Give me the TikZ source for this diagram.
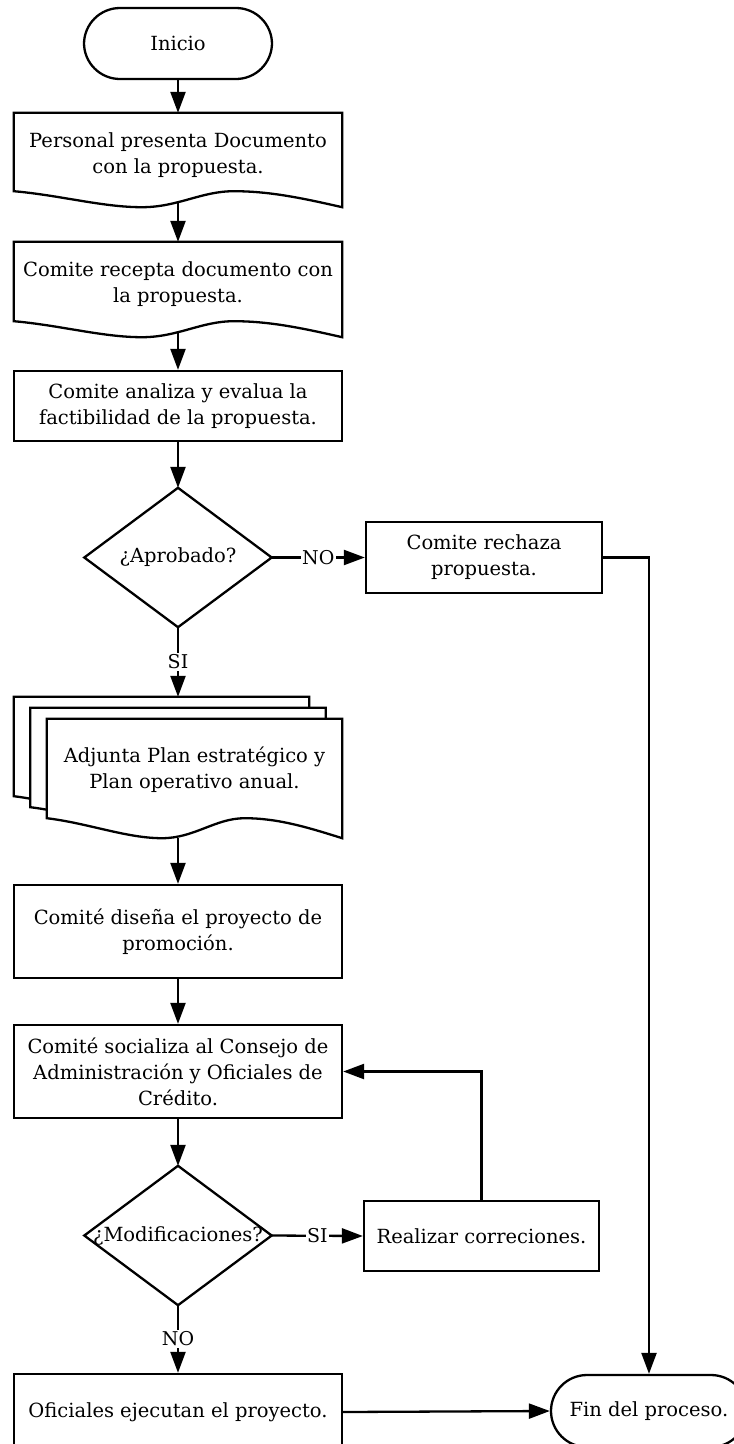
\documentclass[tikz,border=0pt]{standalone}
\usepackage{fontspec}
\setmainfont{DejaVu Serif}
\usetikzlibrary{arrows.meta,calc}
\pgfdeclarelayer{bg}
\pgfsetlayers{bg,main}

% Document symbol with a wavy lower edge, drawn around an (empty) node.
% #1 extra draw options, #2 node name, #3 wave amplitude
\newcommand\docoutline[3][]{%
  \draw[line,fill=white,#1]
    (#2.north west) -- (#2.north east) -- (#2.south east)
    .. controls ($(#2.south west)!0.88!(#2.south east)+(0,{-0.56*#3})$)
            and ($(#2.south west)!0.78!(#2.south east)+(0,{-#3})$)
    .. ($(#2.south west)!0.67!(#2.south east)+(0,{-#3})$)
    .. controls ($(#2.south west)!0.57!(#2.south east)+(0,{-#3})$)
            and ($(#2.south west)!0.50!(#2.south east)$)
    .. ($(#2.south west)!0.39!(#2.south east)$)
    .. controls ($(#2.south west)!0.27!(#2.south east)$)
            and ($(#2.south west)!0.14!(#2.south east)+(0,{-0.75*#3})$)
    .. ($(#2.south west)+(0,{-#3})$) -- cycle;}

\begin{document}
\begin{tikzpicture}[x=1pt,y=-1pt,
  every node/.style={font=\fontsize{19.5}{26}\selectfont, align=center, inner sep=0pt},
  line/.style={line width=2.3pt, draw=black},
  arrow/.style={line, -{Triangle[length=21pt,width=15pt]}},
  terminal/.style={line, rounded corners=36pt, minimum height=71pt},
  box/.style={line, minimum width=328pt},
  docbox/.style={minimum width=328pt, minimum height=94pt},
  multidoc/.style={minimum width=295pt, minimum height=119pt},
  dia/.style={minimum width=187pt, minimum height=139pt},
  lbl/.style={fill=white, inner sep=1.5pt, font=\fontsize{19}{24}\selectfont}
]
\useasboundingbox (0,0) rectangle (734,1444);
\clip (0,0) rectangle (734,1444);

% main column
\node[terminal, minimum width=188pt] (start) at (178,43.5) {Inicio};

\node[docbox] (d1) at (178,160) {};
\node (d1t) at ($(d1.center)+(0,-5)$) {Personal presenta Documento\\con la propuesta.};

\node[docbox, minimum height=95pt] (d2) at (178,289.5) {};
\node (d2t) at ($(d2.center)+(0,-5.5)$) {Comite recepta documento con\\la propuesta.};

\node[box, minimum height=70pt] (r3) at (178,406) {Comite analiza y evalua la\\factibilidad de la propuesta.};

\node[dia] (dia1) at (178,557.5) {¿Aprobado?};
\node[box, minimum width=236pt, minimum height=71pt] (rrej) at (484,557.5) {Comite rechaza\\propuesta.};

\node[multidoc] (m1) at (161.5,756.5) {};
\node[multidoc] (m2) at (178,767.5) {};
\node[multidoc] (m) at (194.5,778.5) {};
\node (mt) at ($(m.center)+(0,-9)$) {Adjunta Plan estratégico y\\Plan operativo anual.};

\node[box, minimum height=93pt] (r5) at (178,931.5) {Comité diseña el proyecto de\\promoción.};
\node[box, minimum height=93pt] (r6) at (178,1071.5) {Comité socializa al Consejo de\\Administración y Oficiales de\\Crédito.};

\node[dia] (dia2) at (178,1235.5) {¿Modificaciones?};
\node[box, minimum width=235pt, minimum height=70pt] (rcorr) at (481.5,1236) {Realizar correciones.};

\node[box, minimum height=76pt] (r8) at (178,1412) {Oficiales ejecutan el proyecto.};
\node[terminal, minimum width=196pt, minimum height=72pt] (fin) at (649,1411) {Fin del proceso.};

% symbol outlines
\draw[line] (dia1.north) -- (dia1.east) -- (dia1.south) -- (dia1.west) -- cycle;
\draw[line] (dia2.north) -- (dia2.east) -- (dia2.south) -- (dia2.west) -- cycle;
\begin{pgfonlayer}{bg}
  \docoutline{d1}{16}
  \docoutline{d2}{16}
  \docoutline{m1}{20}
  \docoutline{m2}{20}
  \docoutline{m}{20}
\end{pgfonlayer}

% connectors
\draw[arrow] (start) -- (d1);
\draw[arrow] ($(d1.south)+(0,-6)$) -- (d2.north);
\draw[arrow] ($(d2.south)+(0,-6)$) -- (r3.north);
\draw[arrow] (r3.south) -- (dia1.north);
\draw[arrow] (dia1.east) -- node[lbl] {NO} (rrej.west);
\draw[arrow] (dia1.south) -- node[lbl] {SI} (dia1.south |- m1.north);
\draw[arrow] (r5.north |- m.south) -- (r5.north);
\draw[arrow] (r5.south) -- (r6.north);
\draw[arrow] (r6.south) -- (dia2.north);
\draw[arrow] (dia2.east) -- node[lbl] {SI} (rcorr.west);
\draw[arrow] (rcorr.north) |- (r6.east);
\draw[arrow] (dia2.south) -- node[lbl] {NO} (r8.north);
\draw[arrow] (r8.east) -- (fin.west);
\draw[arrow] (rrej.east) -| (fin.north);
\end{tikzpicture}
\end{document}
